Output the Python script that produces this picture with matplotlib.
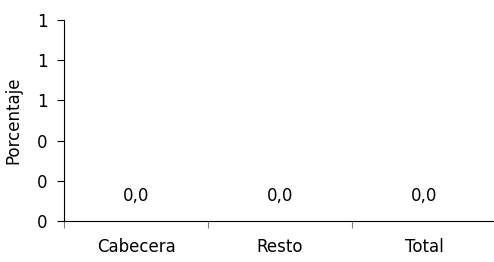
import matplotlib
matplotlib.use("Agg")
import matplotlib.pyplot as plt
from matplotlib.ticker import FormatStrFormatter

categories = ["Cabecera", "Resto", "Total"]
values = [0.0, 0.0, 0.0]
y_ticks = [0, 0.2, 0.4, 0.6, 0.8, 1.0]

plt.rcParams["font.family"] = "DejaVu Sans"
plt.rcParams["font.size"] = 12

W, H = 494, 262
fig = plt.figure(figsize=(W / 100, H / 100), dpi=100)
ax = fig.add_axes([64 / W, 41 / H, 432 / W, 201 / H])

x = range(len(categories))
ax.bar(x, values, width=0.6, color="#4f81bd")
for xi, v in zip(x, values):
    ax.text(xi, 0.08, ("%.1f" % v).replace(".", ","), ha="center", va="bottom")

ax.set_xlim(-0.5, len(categories) - 0.5)
ax.set_ylim(0, 1)
ax.set_yticks(y_ticks)
ax.yaxis.set_major_formatter(FormatStrFormatter("%.0f"))
ax.set_xticks([i - 0.5 for i in range(len(categories) + 1)])
ax.set_xticklabels([])
ax.set_xticks(list(x), minor=True)
ax.set_xticklabels(categories, minor=True)
ax.tick_params(axis="x", which="minor", length=0, pad=12)
ax.tick_params(axis="x", which="major", length=5, color="#808080")
ax.tick_params(axis="y", length=5, pad=7)
ax.set_ylabel("Porcentaje", labelpad=10)

for side in ["top", "right"]:
    ax.spines[side].set_visible(False)

fig.savefig("out.png", dpi=100)
